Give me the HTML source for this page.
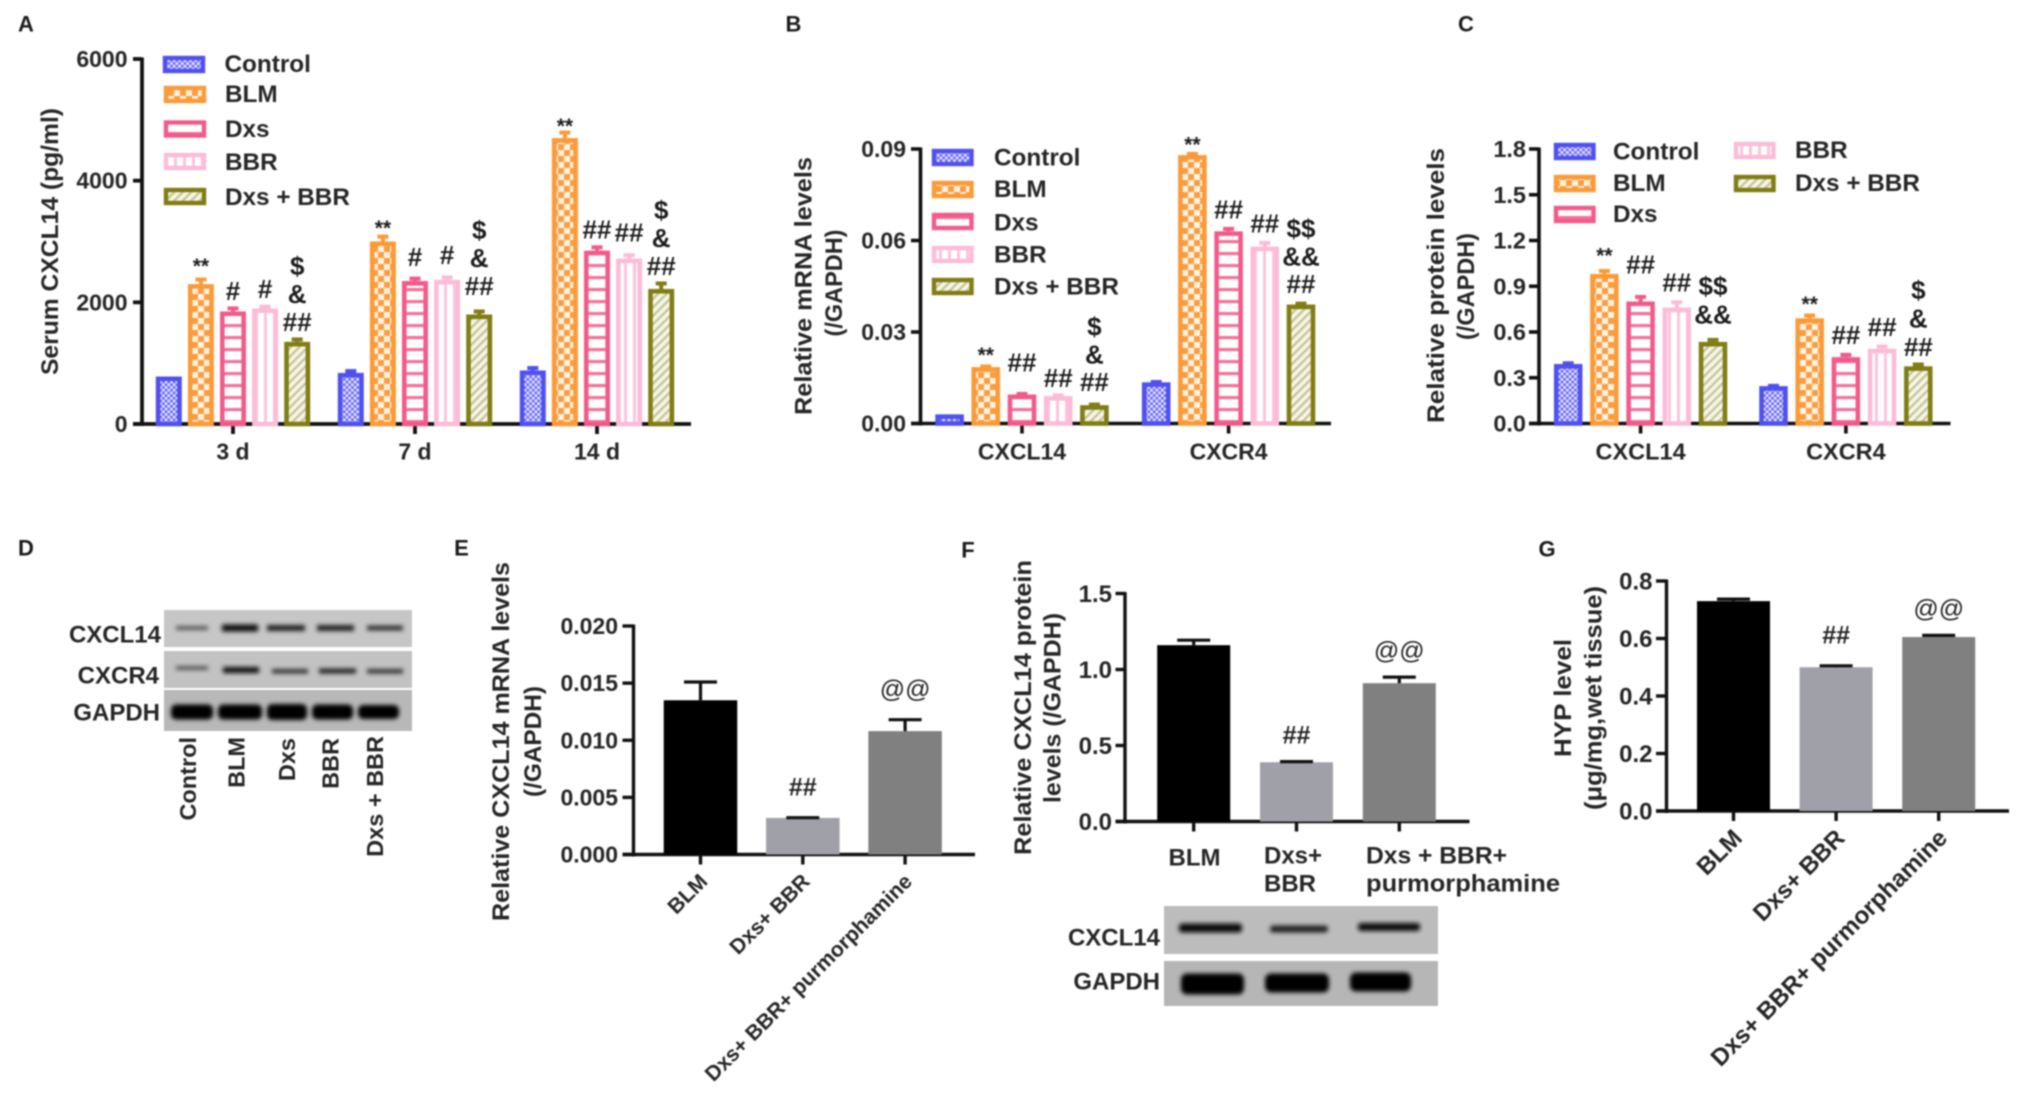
<!DOCTYPE html>
<html lang="en">
<head>
<meta charset="utf-8">
<title>CXCL14 multi-panel figure</title>
<style>
html,body{margin:0;padding:0;background:#fff;}
#figure{display:block;width:2031px;height:1117px;filter:blur(0.85px);font-family:"Liberation Sans",sans-serif;}
</style>
</head>
<body>
<svg id="figure" xmlns="http://www.w3.org/2000/svg" width="2031" height="1117" viewBox="0 0 2031 1117">
<defs>
<pattern id="pat-control" width="5.4" height="5.4" patternUnits="userSpaceOnUse"><rect width="5.4" height="5.4" fill="#6a6af2"/><rect x="0" y="0" width="2.7" height="2.7" fill="#e4e4ff"/><rect x="2.7" y="2.7" width="2.7" height="2.7" fill="#e4e4ff"/></pattern>
<pattern id="pat-blm" width="12" height="12" patternUnits="userSpaceOnUse"><rect width="12" height="12" fill="#fb9d3e"/><rect x="0" y="0" width="6" height="6" fill="#fff3e4"/><rect x="6" y="6" width="6" height="6" fill="#fff3e4"/></pattern>
<pattern id="pat-dxs" width="12" height="12" patternUnits="userSpaceOnUse"><rect width="12" height="12" fill="#fff"/><rect y="0" width="12" height="3.2" fill="#f4729b"/></pattern>
<pattern id="pat-bbr" width="9" height="9" patternUnits="userSpaceOnUse"><rect width="9" height="9" fill="#fff"/><rect x="3" width="3" height="9" fill="#fcc4dc"/></pattern>
<pattern id="pat-combo" width="6" height="6" patternUnits="userSpaceOnUse" patternTransform="rotate(45)"><rect width="6" height="6" fill="#f6f5e4"/><rect width="2.2" height="6" fill="#c4c29a"/></pattern>
<filter id="band-blur" x="-20%" y="-100%" width="140%" height="300%"><feGaussianBlur stdDeviation="2"/></filter>
</defs>

<g>
<rect x="164" y="610" width="248" height="37" fill="#c6c6c6"/>
<rect x="164" y="651" width="248" height="37" fill="#c2c2c2"/>
<rect x="164" y="690" width="248" height="41" fill="#b8b8b8"/>
<g filter="url(#band-blur)">
<rect x="176" y="626" width="32" height="4" fill="#555"/>
<rect x="222" y="624.5" width="36" height="7" fill="#111"/>
<rect x="267" y="625" width="38" height="6" fill="#222"/>
<rect x="317" y="625" width="37" height="6" fill="#222"/>
<rect x="367" y="625.5" width="36" height="5" fill="#333"/>
<rect x="176" y="666" width="32" height="4" fill="#555"/>
<rect x="223" y="667" width="36" height="6" fill="#111"/>
<rect x="272" y="669" width="36" height="4.5" fill="#333"/>
<rect x="319" y="668.5" width="37" height="5" fill="#222"/>
<rect x="367" y="669" width="36" height="4.5" fill="#333"/>
<rect x="171" y="704.5" width="42" height="15" rx="5" fill="#000"/>
<rect x="218" y="704.5" width="44" height="15" rx="5" fill="#000"/>
<rect x="267" y="704" width="40" height="16" rx="5" fill="#000"/>
<rect x="312" y="704.5" width="41" height="15" rx="5" fill="#000"/>
<rect x="358" y="705" width="41" height="14" rx="5" fill="#000"/>
</g>
</g>

<g>
<rect x="1164" y="906" width="274" height="48" fill="#bcbcbc"/>
<rect x="1164" y="961" width="274" height="45" fill="#b6b6b6"/>
<g filter="url(#band-blur)">
<rect x="1179" y="923.5" width="63" height="9" rx="3" fill="#111"/>
<rect x="1270" y="925.5" width="58" height="7" rx="3" fill="#222"/>
<rect x="1358" y="923" width="62" height="8" rx="3" fill="#111"/>
<rect x="1181" y="973.5" width="63" height="21" rx="6" fill="#000"/>
<rect x="1265" y="973.5" width="64" height="19" rx="6" fill="#000"/>
<rect x="1350" y="972.5" width="61" height="19" rx="6" fill="#000"/>
</g>
</g>
<g id="chart-layer"></g>
</svg>

<script>
// ---------- Shared categories ----------
const seriesNames = ['Control', 'BLM', 'Dxs', 'BBR', 'Dxs + BBR'];
const seriesPatterns = ['pat-control', 'pat-blm', 'pat-dxs', 'pat-bbr', 'pat-combo'];
const seriesStrokes = ['#5050f0', '#fb9a38', '#f25a8a', '#fcbcd8', '#807d14'];

// ---------- Panel A ----------
const categoriesA = ['3 d', '7 d', '14 d'];
const ticksA = [0, 2000, 4000, 6000];
const tickLabelsA = ['0', '2000', '4000', '6000'];
const controlA = [780, 840, 880];
const blmA = [2300, 3000, 4700];
const dxsA = [1850, 2350, 2850];
const bbrA = [1900, 2370, 2720];
const comboA = [1350, 1800, 2220];
const controlErrA = [0, 30, 40];
const blmErrA = [75, 80, 90];
const dxsErrA = [50, 40, 55];
const bbrErrA = [30, 40, 55];
const comboErrA = [40, 50, 90];
const sigA = [
  [[], [], []],
  [['**'], ['**'], ['**']],
  [['#'], ['#'], ['##']],
  [['#'], ['#'], ['##']],
  [['##', '&', '$'], ['##', '&', '$'], ['##', '&', '$']]
];

// ---------- Panel B ----------
const categoriesB = ['CXCL14', 'CXCR4'];
const ticksB = [0, 0.03, 0.06, 0.09];
const tickLabelsB = ['0.00', '0.03', '0.06', '0.09'];
const controlB = [0.003, 0.0135];
const blmB = [0.0185, 0.088];
const dxsB = [0.0095, 0.063];
const bbrB = [0.009, 0.058];
const comboB = [0.006, 0.039];
const controlErrB = [0, 0.0001];
const blmErrB = [0.0002, 0.0004];
const dxsErrB = [0.0002, 0.0008];
const bbrErrB = [0.0002, 0.0012];
const comboErrB = [0.0002, 0.0003];
const sigB = [
  [[], []],
  [['**'], ['**']],
  [['##'], ['##']],
  [['##'], ['##']],
  [['##', '&', '$'], ['##', '&&', '$$']]
];

// ---------- Panel C ----------
const categoriesC = ['CXCL14', 'CXCR4'];
const ticksC = [0, 0.3, 0.6, 0.9, 1.2, 1.5, 1.8];
const tickLabelsC = ['0.0', '0.3', '0.6', '0.9', '1.2', '1.5', '1.8'];
const controlC = [0.39, 0.245];
const blmC = [0.98, 0.69];
const dxsC = [0.80, 0.435];
const bbrC = [0.76, 0.49];
const comboC = [0.535, 0.375];
const controlErrC = [0.005, 0.002];
const blmErrC = [0.02, 0.018];
const dxsErrC = [0.03, 0.015];
const bbrErrC = [0.035, 0.015];
const comboErrC = [0.013, 0.012];
const sigC = [
  [[], []],
  [['**'], ['**']],
  [['##'], ['##']],
  [['##'], ['##']],
  [['&&', '$$'], ['##', '&', '$']]
];

// ---------- Panel E ----------
const categoriesE = ['BLM', 'Dxs+ BBR', 'Dxs+ BBR+ purmorphamine'];
const ticksE = [0, 0.005, 0.01, 0.015, 0.02];
const tickLabelsE = ['0.000', '0.005', '0.010', '0.015', '0.020'];
const valuesE = [0.0135, 0.0032, 0.0108];
const errorsE = [0.0016, 0.00002, 0.001];
const sigE = ['', '##', '@@'];

// ---------- Panel F ----------
const ticksF = [0, 0.5, 1.0, 1.5];
const tickLabelsF = ['0.0', '0.5', '1.0', '1.5'];
const valuesF = [1.16, 0.39, 0.91];
const errorsF = [0.033, 0.004, 0.04];
const sigF = ['', '##', '@@'];

// ---------- Panel G ----------
const categoriesG = ['BLM', 'Dxs+ BBR', 'Dxs+ BBR+ purmorphamine'];
const ticksG = [0, 0.2, 0.4, 0.6, 0.8];
const tickLabelsG = ['0.0', '0.2', '0.4', '0.6', '0.8'];
const valuesG = [0.73, 0.50, 0.605];
const errorsG = [0.007, 0.005, 0.006];
const sigG = ['', '##', '@@'];

const grayFills = ['#000000', '#a0a0a8', '#808080'];
const SVGNS = 'http://www.w3.org/2000/svg';
const layer = document.getElementById('chart-layer');
const INK = '#262626';

function mk(tag, attrs, name, parent) {
  const el = document.createElementNS(SVGNS, tag);
  for (const k in attrs) el.setAttribute(k, attrs[k]);
  
  
  (parent || layer).appendChild(el);
  return el;
}
function txt(str, x, y, o, name, parent) {
  const size = o.size || 23;
  const a = {
    x: x, y: y + size * (o.shift === undefined ? 0.35 : o.shift),
    'font-size': size, 'font-weight': o.weight || 'bold',
    'text-anchor': o.anchor || 'middle', fill: o.fill || INK,
    'font-family': '"Liberation Sans", sans-serif'
  };
  if (o.rot) a.transform = 'rotate(' + o.rot + ' ' + x + ' ' + y + ')';
  if (o.len) { a.textLength = o.len; a.lengthAdjust = 'spacingAndGlyphs'; }
  const el = mk('text', a, name, parent);
  el.textContent = str;
  return el;
}
function line(x1, y1, x2, y2, stroke, w, name, parent) {
  return mk('line', { x1: x1, y1: y1, x2: x2, y2: y2, stroke: stroke, 'stroke-width': w }, name, parent);
}
function yScale(p) {
  return v => p.yZero - (v / p.max) * (p.yZero - p.yTop);
}
function drawAxes(p, ticks, labels, key) {
  const g = mk('g', {}, key + '-axes');
  const y = yScale(p);
  line(p.x0, p.yTop - 1.5, p.x0, p.yZero + 2, '#111', p.axisW, key + '-y-axis', g);
  line(p.tickLeft, p.yZero, p.xEnd, p.yZero, '#111', p.axisW, key + '-x-axis', g);
  ticks.forEach((t, i) => {
    line(p.tickLeft, y(t), p.x0, y(t), '#111', p.axisW, key + '-y-tick', g);
    txt(labels[i], p.labelRight, y(t), { anchor: 'end', size: p.tickSize }, key + '-y-tick-label', g);
  });
  return g;
}
function drawGroupedBars(p, cats, series, errs, sigs, key) {
  const y = yScale(p);
  const g = mk('g', {}, key + '-bars');
  cats.forEach((c, gi) => {
    const cx = p.firstCenter + gi * p.groupStep;
    line(cx, p.yZero, cx, p.yZero + 10, '#111', p.axisW, key + '-x-tick', g);
    txt(c, cx, p.catY, { size: p.tickSize }, key + '-x-tick-label', g);
    series.forEach((vals, si) => {
      const bx = cx + (si - 2) * p.barStep;
      const v = vals[gi];
      const e = errs[si][gi];
      const sw = 4.6;
      if (e > 0) {
        line(bx, y(v), bx, y(v + e), seriesStrokes[si], 4, key + '-error-bar', g);
        line(bx - 5.5, y(v + e), bx + 5.5, y(v + e), seriesStrokes[si], 4, key + '-error-cap', g);
      }
      mk('rect', {
        x: bx - p.barW / 2 + sw / 2, y: y(v) + sw / 2,
        width: p.barW - sw, height: Math.max(0, p.yZero - y(v) - sw / 2),
        fill: 'url(#' + seriesPatterns[si] + ')', stroke: seriesStrokes[si], 'stroke-width': sw
      }, key + '-bar-' + seriesNames[si].toLowerCase().replace(/[^a-z]+/g, '-'), g);
      const lift = p.sigLift[si + '-' + gi] || 0;
      sigs[si][gi].forEach((s, k) => {
        const cy = y(v + e) - p.sigGap - lift - k * p.sigStep;
        const star = s.indexOf('*') >= 0;
        txt(s, bx, cy, { size: star ? 21 : 26, shift: star ? 0.55 : 0.36, fill: '#1c1c1c' }, key + '-significance-mark', g);
      });
    });
  });
}
function drawSimpleBars(p, values, errors, sigs, key) {
  const y = yScale(p);
  const g = mk('g', {}, key + '-bars');
  values.forEach((v, i) => {
    const cx = p.firstCenter + i * p.groupStep;
    line(cx, p.yZero, cx, p.yZero + 10, '#111', p.axisW, key + '-x-tick', g);
    mk('rect', { x: cx - p.barW / 2, y: y(v), width: p.barW, height: p.yZero - y(v), fill: grayFills[i] }, key + '-bar', g);
    line(cx, y(v), cx, y(v + errors[i]), '#111', 3.2, key + '-error-bar', g);
    line(cx - 16.5, y(v + errors[i]), cx + 16.5, y(v + errors[i]), '#111', 3.2, key + '-error-cap', g);
    if (sigs[i]) {
      const at = sigs[i].indexOf('@') >= 0;
      const extra = at ? 0 : (p.hashLift || 0);
      txt(sigs[i], cx, y(v + errors[i]) - p.sigGap - extra, { size: 25, weight: at ? 'normal' : 'bold', fill: '#222' }, key + '-significance-mark', g);
    }
  });
}
function drawLegend(swW, swH, swatches, labels, key) {
  const g = mk('g', {}, key + '-legend');
  seriesNames.forEach((n, i) => {
    const s = swatches[i];
    const l = labels[i];
    mk('rect', {
      x: s[0] + 2, y: s[1] + 2, width: swW - 4, height: swH - 4,
      fill: 'url(#' + seriesPatterns[i] + ')', stroke: seriesStrokes[i], 'stroke-width': 4.4
    }, key + '-legend-swatch', g);
    txt(n, l[0], l[1], { anchor: 'start', size: 24.3 }, key + '-legend-label', g);
  });
}

// ---------- Panel layouts ----------
const panelA = { x0: 142, xEnd: 691, tickLeft: 133, yTop: 59, yZero: 424, max: 6000, axisW: 3.8, labelRight: 127.5, tickSize: 23, firstCenter: 233, groupStep: 182, barStep: 32.1, barW: 26, catY: 451.5, sigGap: 18, sigStep: 28,
  sigLift: { '1-1': -5, '2-1': 4, '3-1': 5, '4-1': 8, '1-2': -7, '3-2': 5 } };
const panelB = { x0: 920.5, xEnd: 1331, tickLeft: 911, yTop: 149, yZero: 423.5, max: 0.09, axisW: 3.6, labelRight: 906, tickSize: 23, firstCenter: 1022, groupStep: 206.6, barStep: 36.2, barW: 28.6, catY: 451.5, sigGap: 20, sigStep: 27.7,
  sigLift: { '1-0': -4, '2-0': 12, '3-0': -2, '4-0': 3, '1-1': -6 } };
const panelC = { x0: 1539, xEnd: 1950.5, tickLeft: 1529, yTop: 149, yZero: 423.5, max: 1.8, axisW: 3.6, labelRight: 1526, tickSize: 23.5, firstCenter: 1640.6, groupStep: 205.3, barStep: 36.2, barW: 28.5, catY: 451.5, sigGap: 20, sigStep: 28.5,
  sigLift: { '2-0': 13, '4-0': 6, '1-1': -4, '4-1': -2 } };
const panelE = { x0: 633.5, xEnd: 975, tickLeft: 622.5, yTop: 626, yZero: 854.5, max: 0.02, axisW: 3.4, labelRight: 618, tickSize: 23, firstCenter: 700.5, groupStep: 102.3, barW: 73.5, sigGap: 31 };
const panelF = { x0: 1125, xEnd: 1469.5, tickLeft: 1115.5, yTop: 593.5, yZero: 821.5, max: 1.5, axisW: 3.4, labelRight: 1112, tickSize: 24, firstCenter: 1193.7, groupStep: 102.8, barW: 73, sigGap: 27 };
const panelG = { x0: 1666.5, xEnd: 2009, tickLeft: 1656, yTop: 581, yZero: 811, max: 0.8, axisW: 3.4, labelRight: 1652.5, tickSize: 24, firstCenter: 1733.5, groupStep: 102.6, barW: 73, sigGap: 27, hashLift: 4 };

// ---------- Draw ----------
drawAxes(panelA, ticksA, tickLabelsA, 'panel-a');
drawGroupedBars(panelA, categoriesA, [controlA, blmA, dxsA, bbrA, comboA], [controlErrA, blmErrA, dxsErrA, bbrErrA, comboErrA], sigA, 'panel-a');
drawLegend(42, 17, [[163, 56], [164, 86], [164, 120.5], [164, 153], [164, 188]], [[224.5, 63.5], [225, 93.5], [225, 128.5], [225, 161.5], [225, 196.5]], 'panel-a');
txt('Serum CXCL14 (pg/ml)', 49.5, 241.5, { rot: -90, size: 24, len: 267 }, 'panel-a-y-axis-title');

drawAxes(panelB, ticksB, tickLabelsB, 'panel-b');
drawGroupedBars(panelB, categoriesB, [controlB, blmB, dxsB, bbrB, comboB], [controlErrB, blmErrB, dxsErrB, bbrErrB, comboErrB], sigB, 'panel-b');
drawLegend(41.5, 17, [[932, 149], [932, 181], [932, 213], [932, 246], [932, 278]], [[994, 157], [994, 188.5], [994, 222], [994, 254], [994, 286]], 'panel-b');
txt('Relative mRNA levels', 803, 286, { rot: -90, size: 24, len: 258 }, 'panel-b-y-axis-title');
txt('(/GAPDH)', 833.5, 283, { rot: -90, size: 24, len: 107 }, 'panel-b-y-axis-subtitle');

drawAxes(panelC, ticksC, tickLabelsC, 'panel-c');
drawGroupedBars(panelC, categoriesC, [controlC, blmC, dxsC, bbrC, comboC], [controlErrC, blmErrC, dxsErrC, bbrErrC, comboErrC], sigC, 'panel-c');
drawLegend(41.5, 17, [[1554, 143], [1554, 175], [1554, 206], [1734, 142], [1734, 175]], [[1613, 151], [1613, 182.5], [1613, 213.5], [1795, 149.5], [1795, 182.5]], 'panel-c');
txt('Relative protein levels', 1435.5, 285.5, { rot: -90, size: 24, len: 275 }, 'panel-c-y-axis-title');
txt('(/GAPDH)', 1465.5, 286.5, { rot: -90, size: 24, len: 107 }, 'panel-c-y-axis-subtitle');

drawAxes(panelE, ticksE, tickLabelsE, 'panel-e');
drawSimpleBars(panelE, valuesE, errorsE, sigE, 'panel-e');
categoriesE.forEach((c, i) => {
  txt(c, panelE.firstCenter + i * panelE.groupStep + 3, 877.5, { anchor: 'end', rot: -45, size: 21.2 }, 'panel-e-x-tick-label');
});
txt('Relative CXCL14 mRNA levels', 500.5, 741.5, { rot: -90, size: 24, len: 359 }, 'panel-e-y-axis-title');
txt('(/GAPDH)', 532.5, 741.5, { rot: -90, size: 24, len: 111 }, 'panel-e-y-axis-subtitle');

drawAxes(panelF, ticksF, tickLabelsF, 'panel-f');
drawSimpleBars(panelF, valuesF, errorsF, sigF, 'panel-f');
txt('BLM', 1194.5, 857, { size: 24 }, 'panel-f-x-tick-label');
txt('Dxs+', 1264, 855, { anchor: 'start', size: 24 }, 'panel-f-x-tick-label');
txt('BBR', 1264, 883, { anchor: 'start', size: 24 }, 'panel-f-x-tick-label');
txt('Dxs + BBR+', 1366, 855, { anchor: 'start', size: 24, len: 141 }, 'panel-f-x-tick-label');
txt('purmorphamine', 1366, 883, { anchor: 'start', size: 24, len: 194 }, 'panel-f-x-tick-label');
txt('Relative CXCL14 protein', 1022.5, 707.5, { rot: -90, size: 24, len: 295 }, 'panel-f-y-axis-title');
txt('levels (/GAPDH)', 1052, 708, { rot: -90, size: 24, len: 190 }, 'panel-f-y-axis-subtitle');

drawAxes(panelG, ticksG, tickLabelsG, 'panel-g');
drawSimpleBars(panelG, valuesG, errorsG, sigG, 'panel-g');
categoriesG.forEach((c, i) => {
  txt(c, panelG.firstCenter + i * panelG.groupStep + 4, 833.5, { anchor: 'end', rot: -45, size: 24.2 }, 'panel-g-x-tick-label');
});
txt('HYP level', 1562.5, 698, { rot: -90, size: 24, len: 118 }, 'panel-g-y-axis-title');
txt('(\u03bcg/mg,wet tissue)', 1593, 698, { rot: -90, size: 24, len: 224 }, 'panel-g-y-axis-subtitle');

// ---------- Panel letters ----------
const panelLetters = ['A', 'B', 'C', 'D', 'E', 'F', 'G'];
const letterSpots = [[26, 24], [793.5, 24], [1466, 24], [26, 548], [461.5, 548], [968, 550], [1547, 549]];
panelLetters.forEach((l, i) => {
  txt(l, letterSpots[i][0], letterSpots[i][1], { size: 22, fill: '#1a1a1a' }, 'panel-letter-' + l.toLowerCase());
});

// ---------- Blot labels ----------
txt('CXCL14', 161, 634, { anchor: 'end', size: 24 }, 'blot-d-cxcl14-label');
txt('CXCR4', 159, 675, { anchor: 'end', size: 24 }, 'blot-d-cxcr4-label');
txt('GAPDH', 160, 712, { anchor: 'end', size: 24 }, 'blot-d-gapdh-label');
const blotDLanes = ['Control', 'BLM', 'Dxs', 'BBR', 'Dxs + BBR'];
const blotDLaneSpots = [[188, 737], [236.5, 737], [287, 738], [330.5, 738], [375, 736]];
blotDLanes.forEach((l, i) => {
  txt(l, blotDLaneSpots[i][0], blotDLaneSpots[i][1], { anchor: 'end', rot: -90, size: 23.5 }, 'blot-d-lane-label');
});
txt('CXCL14', 1160, 937, { anchor: 'end', size: 24 }, 'blot-f-cxcl14-label');
txt('GAPDH', 1160, 981, { anchor: 'end', size: 24 }, 'blot-f-gapdh-label');
</script>
</body>
</html>
